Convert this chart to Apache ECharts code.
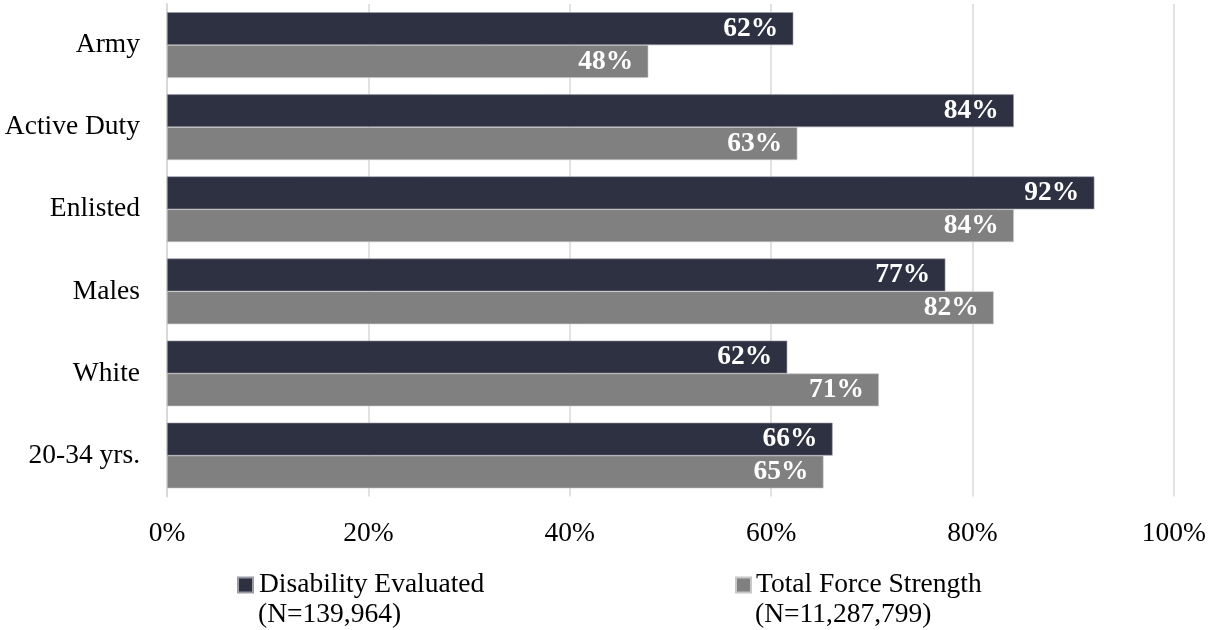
<!DOCTYPE html>
<html>
<head>
<meta charset="utf-8">
<script src="https://cdn.jsdelivr.net/npm/echarts@6/dist/echarts.min.js"></script>
<style>
html,body{margin:0;padding:0;background:#fff;}
#c{width:1209px;height:630px;}
</style>
</head>
<body>
<div id="c"></div>
<script>
const categories = ['Army', 'Active Duty', 'Enlisted', 'Males', 'White', '20-34 yrs.'];
const disabilityEvaluated = [62.2, 84.1, 92.1, 77.3, 61.6, 66.1];
const totalForceStrength = [47.8, 62.6, 84.1, 82.1, 70.7, 65.2];
const seriesNames = ['Disability Evaluated', 'Total Force Strength'];
const seriesNotes = ['(N=139,964)', '(N=11,287,799)'];
const xTicks = [0, 20, 40, 60, 80, 100];

const FONT = '"Liberation Serif", "DejaVu Serif", serif';
const FS = 27.5;
const chart = echarts.init(document.getElementById('c'));

const labelCfg = {
  show: true,
  position: 'insideRight',
  distance: 15,
  color: '#ffffff',
  fontFamily: FONT,
  fontWeight: 'bold',
  fontSize: FS,
  formatter: p => Math.round(p.value) + '%'
};

chart.setOption({
  animation: false,
  backgroundColor: '#ffffff',
  grid: { left: 167, right: 31.7, top: 4, bottom: 133.4, containLabel: false },
  xAxis: {
    type: 'value',
    min: xTicks[0],
    max: xTicks[xTicks.length - 1],
    interval: xTicks[1] - xTicks[0],
    axisLine: { show: false },
    axisTick: { show: false },
    splitLine: { show: true, lineStyle: { color: '#d9d9d9', width: 1.5 } },
    axisLabel: { formatter: '{value}%', color: '#000', fontFamily: FONT, fontSize: FS, margin: 23 }
  },
  yAxis: {
    type: 'category',
    inverse: true,
    data: categories,
    axisLine: { show: true, lineStyle: { color: '#d9d9d9', width: 2 } },
    axisTick: { show: false },
    axisLabel: { color: '#000', fontFamily: FONT, fontSize: FS, margin: 27 }
  },
  legend: [
    {
      data: [seriesNames[0]], left: 237, top: 571, padding: 0, icon: 'rect', itemWidth: 15, itemHeight: 15, itemGap: 0,
      textStyle: { color: '#000', fontFamily: FONT, fontSize: FS, padding: [0, 0, 0, 1] }
    },
    {
      data: [seriesNames[1]], left: 735, top: 571, padding: 0, icon: 'rect', itemWidth: 15, itemHeight: 15, itemGap: 0,
      textStyle: { color: '#000', fontFamily: FONT, fontSize: FS, padding: [0, 0, 0, 0] }
    }
  ],
  graphic: [
    { type: 'text', left: 258, top: 601, style: { text: seriesNotes[0], fill: '#000', font: FS + 'px ' + FONT } },
    { type: 'text', left: 755, top: 601, style: { text: seriesNotes[1], fill: '#000', font: FS + 'px ' + FONT } }
  ],
  series: [
    {
      name: seriesNames[0], type: 'bar', data: disabilityEvaluated,
      barGap: '0%', barCategoryGap: '20%',
      itemStyle: { color: '#2e3142', borderColor: '#9a9ca6', borderWidth: 0.6 },
      label: labelCfg
    },
    {
      name: seriesNames[1], type: 'bar', data: totalForceStrength,
      barGap: '0%', barCategoryGap: '20%',
      itemStyle: { color: '#808080', borderColor: '#c8c8c8', borderWidth: 0.6 },
      label: labelCfg
    }
  ]
});
</script>
</body>
</html>
